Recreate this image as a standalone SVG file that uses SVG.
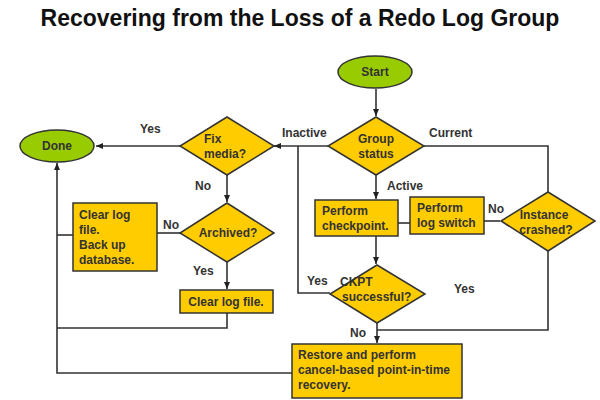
<svg xmlns="http://www.w3.org/2000/svg" width="600" height="400" viewBox="0 0 600 400">
<defs>
<marker id="ah" markerWidth="8" markerHeight="8" refX="7" refY="4" orient="auto" markerUnits="userSpaceOnUse">
<path d="M0,1 L7,4 L0,7 z" fill="#222"/>
</marker>
<style>
.t{font-family:"Liberation Sans",Arial,sans-serif;font-weight:bold;font-size:12px;fill:#333}
.c{text-anchor:middle}
.y{fill:#FFCC00;stroke:#333;stroke-width:1.5}
.g{fill:#99CC00;stroke:#333;stroke-width:1.5}
.ln{fill:none;stroke:#333;stroke-width:1.6}
.a{marker-end:url(#ah)}
</style>
</defs>
<rect width="600" height="400" fill="#fff"/>
<text x="300" y="26" text-anchor="middle" style="font-family:'Liberation Sans',Arial,sans-serif;font-weight:bold;font-size:23px;fill:#111">Recovering from the Loss of a Redo Log Group</text>

<g id="connectors">
<path class="ln a" d="M376,89 L376,116"/>
<path class="ln a" d="M328,146 L274,146"/>
<path class="ln" d="M330,293 L298,293 L298,146"/>
<path class="ln a" d="M180,146 L96,146"/>
<path class="ln a" d="M227,175 L227,202"/>
<path class="ln" d="M180,233 L157,233"/>
<path class="ln" d="M73,235 L57,235"/>
<path class="ln a" d="M227,262 L227,289"/>
<path class="ln" d="M227,313 L227,328 L57,328"/>
<path class="ln a" d="M292,373 L57,373 L57,163"/>
<path class="ln" d="M423,146 L548,146 L548,192"/>
<path class="ln a" d="M376,175 L376,199"/>
<path class="ln" d="M398,223 L410,223"/>
<path class="ln" d="M500,221 L484,221"/>
<path class="ln a" d="M376,236 L376,264"/>
<path class="ln" d="M548,251 L548,330 L377,330"/>
<path class="ln a" d="M377,323 L377,343"/>
<text class="t" x="140" y="133">Yes</text>
<text class="t" x="282" y="137">Inactive</text>
<text class="t" x="429" y="137">Current</text>
<text class="t" x="387" y="190">Active</text>
<text class="t" x="195" y="190">No</text>
<text class="t" x="163" y="229">No</text>
<text class="t" x="193" y="275">Yes</text>
<text class="t" x="488" y="213">No</text>
<text class="t" x="307" y="285">Yes</text>
<text class="t" x="454" y="293">Yes</text>
<text class="t" x="350" y="337">No</text>
</g>

<g id="start"><ellipse class="g" cx="375" cy="72" rx="37" ry="16"/><text class="t c" x="375" y="76">Start</text></g>
<g id="group-status"><polygon class="y" points="376,117 424,146 376,175 328,146"/><text class="t c" x="376" y="143">Group</text><text class="t c" x="376" y="158">status</text></g>
<g id="fix-media"><polygon class="y" points="227,117 274,146 227,175 180,146"/><text class="t" x="204" y="143">Fix</text><text class="t" x="204" y="158">media?</text></g>
<g id="done"><ellipse class="g" cx="57" cy="146" rx="37" ry="16"/><text class="t c" x="57" y="150">Done</text></g>
<g id="archived"><polygon class="y" points="227,203 274,233 227,262 180,233"/><text class="t c" x="228" y="237">Archived?</text></g>
<g id="clear-backup"><rect class="y" x="73" y="203" width="84" height="68"/><text class="t" x="79" y="219">Clear log</text><text class="t" x="79" y="234">file.</text><text class="t" x="79" y="249">Back up</text><text class="t" x="79" y="264">database.</text></g>
<g id="clear-log"><rect class="y" x="180" y="290" width="93" height="23"/><text class="t c" x="226" y="306">Clear log file.</text></g>
<g id="checkpoint"><rect class="y" x="315" y="200" width="83" height="36"/><text class="t" x="322" y="215">Perform</text><text class="t" x="322" y="230">checkpoint.</text></g>
<g id="log-switch"><rect class="y" x="410" y="197" width="74" height="37"/><text class="t" x="417" y="212">Perform</text><text class="t" x="417" y="227">log switch</text></g>
<g id="instance-crashed"><polygon class="y" points="548,192 595,221 548,251 501,221"/><text class="t c" x="544" y="219">Instance</text><text class="t c" x="546" y="234">crashed?</text></g>
<g id="ckpt"><polygon class="y" points="377,265 425,294 377,323 330,294"/><text class="t" x="340" y="286">CKPT</text><text class="t" x="342" y="301">successful?</text></g>
<g id="restore"><rect class="y" x="292" y="344" width="170" height="54"/><text class="t" x="298" y="359">Restore and perform</text><text class="t" x="298" y="374">cancel-based point-in-time</text><text class="t" x="298" y="389">recovery.</text></g>
</svg>
